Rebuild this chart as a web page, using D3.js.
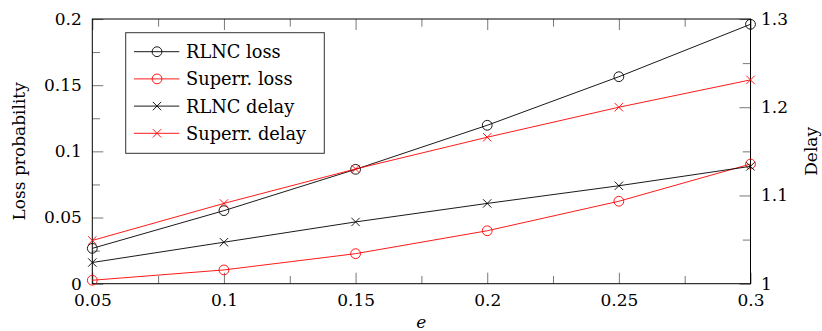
<!DOCTYPE html>
<html>
<head>
<meta charset="utf-8">
<script src="https://cdn.jsdelivr.net/npm/d3@7"></script>
<style>
  body { margin: 0; background: #fff; }
  svg text { font-family: "DejaVu Serif", serif; fill: #000; }
</style>
</head>
<body>
<div id="chart"></div>
<script>
// ==================================================
// DATA
// ==================================================

var eValues     = [0.05, 0.1, 0.15, 0.2, 0.25, 0.3];
var rlncLoss    = [0.0267, 0.0552, 0.0864, 0.1197, 0.1564, 0.196];
var superrLoss  = [0.0026, 0.0104, 0.0227, 0.040, 0.0623, 0.0904];
var rlncDelay   = [1.024, 1.047, 1.070, 1.091, 1.111, 1.133];
var superrDelay = [1.049, 1.091, 1.130, 1.166, 1.200, 1.231];

var xTicks      = [0.05, 0.1, 0.15, 0.2, 0.25, 0.3];
var xMinor      = [0.075, 0.125, 0.175, 0.225, 0.275];
var lossTicks   = [0, 0.05, 0.1, 0.15, 0.2];
var lossMinor   = [0.025, 0.075, 0.125, 0.175];
var delayTicks  = [1, 1.1, 1.2, 1.3];
var delayMinor  = [1.05, 1.15, 1.25];

var seriesNames = ["RLNC loss", "Superr. loss", "RLNC delay", "Superr. delay"];

// ==================================================
// CANVAS
// ==================================================

var W = 822, H = 331;
var plot = { left: 92.3, right: 750.5, top: 19, bottom: 283.7 };

var svg = d3.select("#chart").append("svg")
	.attr("width", W)
	.attr("height", H);

var x = d3.scaleLinear().domain([0.05, 0.3]).range([plot.left, plot.right]);
var yLoss = d3.scaleLinear().domain([0, 0.2]).range([plot.bottom, plot.top]);
var yDelay = d3.scaleLinear().domain([1, 1.3]).range([plot.bottom, plot.top]);

var fmt = function(d) { return String(+d.toFixed(3)); };

// Axis helper
function styleAxis(g) {
	g.select(".domain").remove();
	g.selectAll(".tick line").attr("stroke", "#555").attr("stroke-width", 0.8);
	g.selectAll(".tick text").attr("font-size", "17px");
}

// Bottom
svg.append("g")
	.attr("transform", "translate(0," + plot.bottom + ")")
	.call(d3.axisBottom(x).tickValues(xTicks).tickFormat(fmt).tickSizeInner(-11).tickSizeOuter(0).tickPadding(10))
	.call(styleAxis);
svg.append("g")
	.attr("transform", "translate(0," + plot.bottom + ")")
	.call(d3.axisBottom(x).tickValues(xMinor).tickFormat("").tickSizeInner(-7.7).tickSizeOuter(0))
	.call(styleAxis);

// Top
svg.append("g")
	.attr("transform", "translate(0," + plot.top + ")")
	.call(d3.axisTop(x).tickValues(xTicks).tickFormat("").tickSizeInner(-11).tickSizeOuter(0))
	.call(styleAxis);
svg.append("g")
	.attr("transform", "translate(0," + plot.top + ")")
	.call(d3.axisTop(x).tickValues(xMinor).tickFormat("").tickSizeInner(-7.7).tickSizeOuter(0))
	.call(styleAxis);

// Left
svg.append("g")
	.attr("transform", "translate(" + plot.left + ",0)")
	.call(d3.axisLeft(yLoss).tickValues(lossTicks).tickFormat(fmt).tickSizeInner(-11).tickSizeOuter(0).tickPadding(10.5))
	.call(styleAxis);
svg.append("g")
	.attr("transform", "translate(" + plot.left + ",0)")
	.call(d3.axisLeft(yLoss).tickValues(lossMinor).tickFormat("").tickSizeInner(-7.7).tickSizeOuter(0))
	.call(styleAxis);

// Right
svg.append("g")
	.attr("transform", "translate(" + plot.right + ",0)")
	.call(d3.axisRight(yDelay).tickValues(delayTicks).tickFormat(fmt).tickSizeInner(-11).tickSizeOuter(0).tickPadding(10.5))
	.call(styleAxis);
svg.append("g")
	.attr("transform", "translate(" + plot.right + ",0)")
	.call(d3.axisRight(yDelay).tickValues(delayMinor).tickFormat("").tickSizeInner(-7.7).tickSizeOuter(0))
	.call(styleAxis);

// Frame
svg.append("rect")
	.attr("x", plot.left).attr("y", plot.top)
	.attr("width", plot.right - plot.left)
	.attr("height", plot.bottom - plot.top)
	.attr("fill", "none")
	.attr("stroke", "#000")
	.attr("stroke-width", 1);

// Axis titles
svg.append("text")
	.attr("transform", "translate(18.5," + ((plot.top + plot.bottom) / 2) + ") rotate(-90)")
	.attr("text-anchor", "middle")
	.attr("dominant-baseline", "central")
	.attr("font-size", "17px")
	.text("Loss probability");

svg.append("text")
	.attr("transform", "translate(811," + ((plot.top + plot.bottom) / 2) + ") rotate(-90)")
	.attr("text-anchor", "middle")
	.attr("dominant-baseline", "central")
	.attr("font-size", "17px")
	.text("Delay");

svg.append("text")
	.attr("x", (plot.left + plot.right) / 2)
	.attr("y", 328)
	.attr("text-anchor", "middle")
	.attr("font-size", "17px")
	.attr("font-style", "italic")
	.text("e");

// ==================================================
// SERIES
// ==================================================

var series = [
	{ name: seriesNames[0], values: rlncLoss,    y: yLoss,  color: "#000", mark: "circle" },
	{ name: seriesNames[1], values: superrLoss,  y: yLoss,  color: "#f00", mark: "circle" },
	{ name: seriesNames[2], values: rlncDelay,   y: yDelay, color: "#000", mark: "cross" },
	{ name: seriesNames[3], values: superrDelay, y: yDelay, color: "#f00", mark: "cross" }
];

function drawMark(g, cx, cy, s) {
	if (s.mark === "circle") {
		g.append("circle")
			.attr("cx", cx).attr("cy", cy).attr("r", 4.9)
			.attr("fill", "none")
			.attr("stroke", s.color)
			.attr("stroke-width", 0.9);
	} else {
		var k = 4.2;
		g.append("path")
			.attr("d", "M" + (cx - k) + "," + (cy - k) + "L" + (cx + k) + "," + (cy + k) +
			           "M" + (cx - k) + "," + (cy + k) + "L" + (cx + k) + "," + (cy - k))
			.attr("stroke", s.color)
			.attr("stroke-width", 0.9);
	}
}

var line = d3.line();

series.forEach(function(s) {
	var pts = eValues.map(function(e, i) { return [x(e), s.y(s.values[i])]; });
	var g = svg.append("g");
	g.append("path")
		.attr("d", line(pts))
		.attr("fill", "none")
		.attr("stroke", s.color)
		.attr("stroke-width", 0.9);
	pts.forEach(function(p) { drawMark(g, p[0], p[1], s); });
});

// ==================================================
// LEGEND
// ==================================================

var legend = svg.append("g");
legend.append("rect")
	.attr("x", 125.7).attr("y", 32.7)
	.attr("width", 198.6).attr("height", 120.6)
	.attr("fill", "#fff")
	.attr("stroke", "#333")
	.attr("stroke-width", 1);

series.forEach(function(s, i) {
	var ly = 51.7 + i * 27.2;
	legend.append("line")
		.attr("x1", 134).attr("x2", 179.3)
		.attr("y1", ly).attr("y2", ly)
		.attr("stroke", s.color)
		.attr("stroke-width", 0.9);
	drawMark(legend, 157, ly, s);
	legend.append("text")
		.attr("x", 186)
		.attr("y", ly)
		.attr("dominant-baseline", "central")
		.attr("font-size", "17.8px")
		.text(s.name);
});
</script>
</body>
</html>
